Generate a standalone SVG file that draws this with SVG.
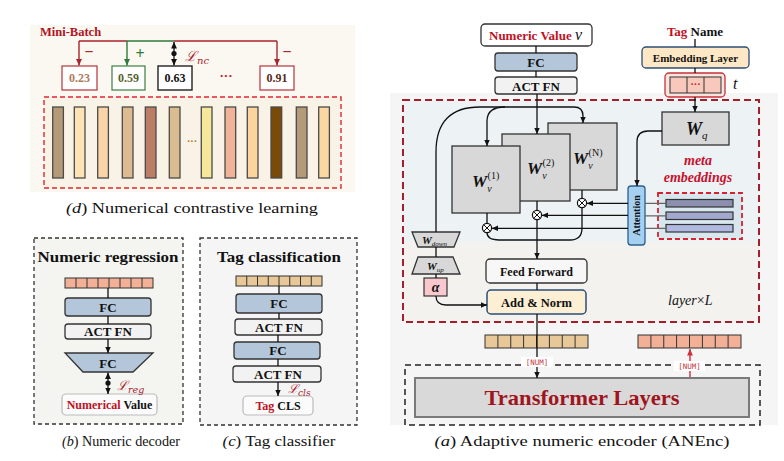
<svg xmlns="http://www.w3.org/2000/svg" width="784" height="461" viewBox="0 0 784 461">
<style>
text{font-family:"Liberation Serif","Times New Roman",serif;fill:#111}
.b{font-weight:bold}
.i{font-style:italic}
.n{font-weight:normal}
.u{font-style:normal}
.m{text-anchor:middle}
.lbl{font-weight:bold;font-size:13px;text-anchor:middle}
.cap{font-size:15.5px;text-anchor:middle}
.scr{font-family:"DejaVu Serif",serif;font-style:italic;fill:#a8242d}
.fc{fill:#b4c6d9;stroke:#333;stroke-width:1.3}
.act{fill:#f2f2f2;stroke:#333;stroke-width:1.3}
.gb{fill:#d8d8d8;stroke:#333;stroke-width:1.3}
.ln{fill:none;stroke:#111;stroke-width:1.3}
.arr{marker-end:url(#ah)}
.cellO{fill:#f2b196;stroke:#333;stroke-width:1}
.cellB{fill:#e8c898;stroke:#333;stroke-width:1}
.cl{stroke:#333;stroke-width:1;fill:none}
.bar{stroke:#4a4a4a;stroke-width:1.3}
.red{fill:#c0111f}
.num{font-family:"DejaVu Sans Mono","Liberation Mono",monospace;font-size:7.5px;fill:#c0393f;text-anchor:middle}
</style>
<defs>
<marker id="ah" viewBox="0 0 10 10" refX="10" refY="5" markerWidth="6.5" markerHeight="6.5" markerUnits="userSpaceOnUse" orient="auto-start-reverse"><path d="M0,0.5 L10,5 L0,9.5 z" fill="#111"/></marker>
<marker id="ahr" viewBox="0 0 10 10" refX="10" refY="5" markerWidth="6.5" markerHeight="6.5" markerUnits="userSpaceOnUse" orient="auto-start-reverse"><path d="M0,0.5 L10,5 L0,9.5 z" fill="#a8242d"/></marker>
<marker id="ahn" viewBox="0 0 10 10" refX="10" refY="5" markerWidth="6.5" markerHeight="6.5" markerUnits="userSpaceOnUse" orient="auto-start-reverse"><path d="M0,0.5 L10,5 L0,9.5 z" fill="#d0303a"/></marker>
<marker id="ahg" viewBox="0 0 10 10" refX="10" refY="5" markerWidth="6.5" markerHeight="6.5" markerUnits="userSpaceOnUse" orient="auto-start-reverse"><path d="M0,0.5 L10,5 L0,9.5 z" fill="#2f7a3a"/></marker>
<g id="otimes"><circle r="4.6" fill="#fff" stroke="#111" stroke-width="1.2"/><path d="M-3.2,-3.2 L3.2,3.2 M3.2,-3.2 L-3.2,3.2" stroke="#111" stroke-width="1"/></g>
</defs>

<!-- ===== backgrounds ===== -->
<g id="backgrounds">
<rect x="30" y="25" width="325" height="167" fill="#fbf8f1"/>
<rect x="44" y="97" width="297" height="91" fill="#f9f2e6" stroke="#e0282e" stroke-width="1.4" stroke-dasharray="5 3"/>
<rect x="34" y="238" width="149" height="186" fill="#f4f4f1" stroke="#333" stroke-width="1.3" stroke-dasharray="4 3"/>
<rect x="200" y="238" width="157" height="187" fill="#f5f5f5" stroke="#333" stroke-width="1.3" stroke-dasharray="4 3"/>
<rect x="390" y="93" width="388" height="332" fill="#f5f5f5"/>
<rect x="403" y="100" width="356" height="142" fill="#edf3f4"/>
<rect x="403" y="242" width="356" height="80" fill="#f3f2ee"/>
<rect x="403" y="100" width="356" height="222" fill="none" stroke="#a31f2b" stroke-width="2" stroke-dasharray="7 4"/>
<rect x="405" y="365" width="355" height="60" fill="none" stroke="#222" stroke-width="1.5" stroke-dasharray="6 4"/>
</g>

<!-- ===== panel d ===== -->
<g id="mini-batch"><text x="40" y="36" class="b" font-size="12.5" style="fill:#b0141f">Mini-Batch</text></g>
<g id="val-023"><rect x="62" y="66" width="35" height="24" fill="#fff" stroke="#b8323a" stroke-width="1.2"/><text x="79.5" y="82" class="b m" font-size="12" style="fill:#b07a5d">0.23</text></g>
<g id="val-059"><rect x="112" y="66" width="33" height="24" fill="#fff" stroke="#3a7d44" stroke-width="1.2"/><text x="128.5" y="82" class="b m" font-size="12" style="fill:#55632a">0.59</text></g>
<g id="val-063"><rect x="158" y="66" width="34" height="24" fill="#fff" stroke="#222" stroke-width="1.4"/><text x="175" y="82" class="b m" font-size="12">0.63</text></g>
<g id="val-dots"><text x="226" y="80" class="b m" font-size="13" style="fill:#c0111f">···</text></g>
<g id="val-091"><rect x="260" y="66" width="34" height="24" fill="#fff" stroke="#b8323a" stroke-width="1.2"/><text x="277" y="82" class="b m" font-size="12" style="fill:#5b2a14">0.91</text></g>
<g id="signs">
<text x="89" y="57" class="b m" font-size="16" style="fill:#a8242d">−</text>
<text x="140" y="59" class="b m" font-size="16" style="fill:#2f7a3a">+</text>
<text x="287" y="57" class="b m" font-size="16" style="fill:#a8242d">−</text>
<text x="185" y="61" class="scr" font-size="14">ℒ<tspan font-size="10" dy="3">nc</tspan></text>
</g>
<g id="embedding-bars">
<rect class="bar" x="52.7" y="107" width="10.7" height="71" fill="#b59a77"/>
<rect class="bar" x="74.3" y="107" width="10.7" height="71" fill="#fde3b3"/>
<rect class="bar" x="97.7" y="107" width="10.7" height="71" fill="#f8d4a6"/>
<rect class="bar" x="122.3" y="107" width="10.7" height="71" fill="#dcbb90"/>
<rect class="bar" x="145.3" y="107" width="10.7" height="71" fill="#bb7d66"/>
<rect class="bar" x="169.3" y="107" width="10.7" height="71" fill="#d9bc8f"/>
<text x="192" y="145" class="b m" font-size="10" style="fill:#b06a10">···</text>
<rect class="bar" x="201.3" y="107" width="10.7" height="71" fill="#f5e89a"/>
<rect class="bar" x="225" y="107" width="10.7" height="71" fill="#f0b39a"/>
<rect class="bar" x="247.3" y="107" width="10.7" height="71" fill="#fdd49d"/>
<rect class="bar" x="271" y="107" width="10.7" height="71" fill="#7a4a08"/>
<rect class="bar" x="296.3" y="107" width="10.7" height="71" fill="#b59a77"/>
<rect class="bar" x="318.7" y="107" width="10.7" height="71" fill="#fbd7a2"/>
</g>
<g id="caption-d"><text x="192" y="213" class="cap" textLength="252" lengthAdjust="spacingAndGlyphs"><tspan class="i">(d</tspan>) Numerical contrastive learning</text></g>

<!-- ===== panel b ===== -->
<g id="numeric-regression">
<text x="108" y="262" class="b m" font-size="15" textLength="141" lengthAdjust="spacingAndGlyphs">Numeric regression</text>
<g id="b-cells"><rect class="cellO" x="65" y="278" width="88" height="10"/><path class="cl" d="M76,278v10M87,278v10M98,278v10M109,278v10M120,278v10M131,278v10M142,278v10"/></g>
<g id="b-fc"><rect class="fc" x="65" y="298" width="86" height="18" rx="3"/><text x="108" y="312" class="lbl">FC</text></g>
<g id="b-act"><rect class="act" x="65" y="324" width="86" height="15" rx="3"/><text x="108" y="336" class="lbl">ACT FN</text></g>
<g id="b-fc2"><path class="fc" d="M65,353 L153,353 L133,372 L83,372 Z"/><text x="108" y="368" class="lbl">FC</text></g>
<g id="b-value"><rect x="62" y="394" width="95" height="21" rx="4" fill="#fbfbfb" stroke="#bbb" stroke-width="1.2"/><text x="109.5" y="409" class="b m" font-size="12"><tspan class="red">Numerical</tspan> Value</text></g>
<text x="117" y="390" class="scr" font-size="13">ℒ<tspan font-size="9.5" dy="3">reg</tspan></text>
</g>
<g id="caption-b"><text x="121" y="446" class="cap" textLength="118" lengthAdjust="spacingAndGlyphs"><tspan class="i">(b</tspan>) Numeric decoder</text></g>

<!-- ===== panel c ===== -->
<g id="tag-classification">
<text x="279" y="262" class="b m" font-size="15" textLength="124" lengthAdjust="spacingAndGlyphs">Tag classification</text>
<g id="c-cells"><rect class="cellB" x="236" y="276" width="86" height="10"/><path class="cl" d="M246.75,276v10M257.5,276v10M268.25,276v10M279,276v10M289.75,276v10M300.5,276v10M311.25,276v10"/></g>
<g id="c-fc1"><rect class="fc" x="236" y="294" width="86" height="19" rx="3"/><text x="279" y="308" class="lbl">FC</text></g>
<g id="c-act1"><rect class="act" x="235" y="319" width="87" height="16" rx="3"/><text x="279" y="332" class="lbl">ACT FN</text></g>
<g id="c-fc2"><rect class="fc" x="234" y="342" width="86" height="17" rx="3"/><text x="278" y="355" class="lbl">FC</text></g>
<g id="c-act2"><rect class="act" x="233" y="366" width="88" height="16" rx="3"/><text x="278" y="379" class="lbl">ACT FN</text></g>
<g id="c-cls"><rect x="243" y="396" width="70" height="19" rx="4" fill="#fbfbfb" stroke="#bbb" stroke-width="1.2"/><text x="278" y="410" class="b m" font-size="12"><tspan class="red">Tag</tspan> CLS</text></g>
<text x="288" y="393" class="scr" font-size="12.5">ℒ<tspan font-size="9" dy="2.5">cls</tspan></text>
</g>
<g id="caption-c"><text x="279" y="446" class="cap" textLength="113" lengthAdjust="spacingAndGlyphs"><tspan class="i">(c</tspan>) Tag classifier</text></g>

<!-- ===== panel a ===== -->
<g id="numeric-value"><rect x="481" y="24" width="111" height="22" rx="4" fill="#fff" stroke="#333" stroke-width="1.3"/><text x="489" y="40" class="b" font-size="13" style="fill:#c0111f">Numeric Value <tspan class="i n" font-size="16" style="fill:#111">v</tspan></text></g>
<g id="a-fc"><rect class="fc" x="495" y="53" width="82" height="18" rx="3"/><text x="536" y="67" class="lbl" font-size="14">FC</text></g>
<g id="a-act"><rect class="act" x="495" y="77" width="82" height="17" rx="3"/><text x="536" y="90.5" class="lbl" font-size="14">ACT FN</text></g>
<g id="tag-name"><text x="695" y="36" class="b m" font-size="13"><tspan class="red">Tag</tspan> Name</text></g>
<g id="embedding-layer"><rect x="642" y="47" width="107" height="21" rx="4" fill="#fde7c4" stroke="#2b4d78" stroke-width="1.3"/><text x="695.5" y="61.5" class="b m" font-size="11">Embedding Layer</text></g>
<g id="tag-vector"><rect x="665" y="73" width="60" height="24" rx="4" fill="#fbe3df" stroke="#c8323a" stroke-width="1.3"/><rect x="670" y="77" width="51" height="16" fill="#f8c8bc" stroke="#333" stroke-width="1"/><path class="cl" d="M687,77v16M704,77v16"/><text x="695.5" y="88" class="b m" font-size="10" style="fill:#c0111f">···</text><text x="733" y="89" class="i" font-size="16">t</text></g>
<g id="w-q"><rect class="gb" x="662" y="112" width="67" height="33"/><text x="686" y="135" class="b i" font-size="18">W<tspan class="n" font-size="11" dy="4">q</tspan></text></g>
<g id="w-v-N"><rect class="gb" x="548" y="123" width="69" height="67"/><text x="573" y="164" class="b i" font-size="17">W<tspan class="n" font-size="10" dy="5">v</tspan><tspan class="n u" font-size="10" dx="-4" dy="-13">(N)</tspan></text></g>
<g id="w-v-2"><rect class="gb" x="502" y="134" width="68" height="67"/><text x="527" y="174" class="b i" font-size="17">W<tspan class="n" font-size="10" dy="5">v</tspan><tspan class="n u" font-size="10" dx="-4" dy="-13">(2)</tspan></text></g>
<g id="w-v-1"><rect class="gb" x="452" y="146" width="68" height="67"/><text x="472" y="187" class="b i" font-size="17">W<tspan class="n" font-size="10" dy="5">v</tspan><tspan class="n u" font-size="10" dx="-4" dy="-13">(1)</tspan></text></g>
<g id="meta-embeddings">
<text x="698" y="165" class="b i m" font-size="14" style="fill:#c8102e">meta</text>
<text x="698" y="182" class="b i m" font-size="14" style="fill:#c8102e">embeddings</text>
<rect x="658" y="193" width="84" height="46" fill="#d8e6ee" stroke="#d6212e" stroke-width="1.8" stroke-dasharray="5 3"/>
<rect x="666" y="199.5" width="67" height="7.5" fill="#8c8fae" stroke="#333" stroke-width="1.2"/>
<rect x="666" y="212" width="67" height="7.5" fill="#a3a8cf" stroke="#333" stroke-width="1.2"/>
<rect x="666" y="224.5" width="67" height="7.5" fill="#b1b8e2" stroke="#333" stroke-width="1.2"/>
</g>
<g id="attention"><rect x="628" y="186" width="17" height="59" rx="3" fill="#a6d0f0" stroke="#2c5f8f" stroke-width="1.3"/><text transform="translate(640,215.5) rotate(-90)" class="b m" font-size="10">Attention</text></g>
<g id="w-down"><path class="gb" d="M412,232 L460,232 L454,247 L418,247 Z"/><text x="422" y="243.5" class="b i" font-size="11">W<tspan class="n" font-size="7" dy="2">down</tspan></text></g>
<g id="w-up"><path class="gb" d="M418,257 L453,257 L460,274 L412,274 Z"/><text x="427" y="269.5" class="b i" font-size="11">W<tspan class="n" font-size="7" dy="2">up</tspan></text></g>
<g id="alpha"><rect x="424" y="278" width="23" height="18" fill="#f9c8cf" stroke="#333" stroke-width="1.2"/><text x="435.5" y="292" class="b i m" font-size="14">α</text></g>
<g id="feed-forward"><rect x="486" y="259" width="101" height="24" rx="4" fill="#f7f7f7" stroke="#333" stroke-width="1.3"/><text x="536.5" y="275.5" class="b m" font-size="12">Feed Forward</text></g>
<g id="add-norm"><rect x="487" y="290" width="99" height="24" rx="4" fill="#fdefd3" stroke="#2b4d78" stroke-width="1.5"/><text x="536.5" y="306.5" class="b m" font-size="12.5">Add &amp; Norm</text></g>
<g id="layer-L"><text x="668" y="305" class="i" font-size="14">layer<tspan class="u">×</tspan>L</text></g>
<g id="out-cells-num"><rect class="cellB" x="485" y="335" width="103" height="13"/><path class="cl" d="M497.9,335v13M510.75,335v13M523.6,335v13M536.5,335v13M549.4,335v13M562.25,335v13M575.1,335v13"/></g>
<g id="out-cells-dec"><rect class="cellO" x="638" y="335" width="103" height="13"/><path class="cl" d="M650.9,335v13M663.75,335v13M676.6,335v13M689.5,335v13M702.4,335v13M715.25,335v13M728.1,335v13"/></g>
<g id="transformer"><rect x="415" y="378" width="334" height="39" fill="#d9d9d9" stroke="#7a7a7a" stroke-width="2"/><text x="582" y="405" class="b m" font-size="22" textLength="195" lengthAdjust="spacingAndGlyphs" style="fill:#a0141e">Transformer Layers</text></g>
<g id="caption-a"><text x="582" y="446" class="cap" textLength="295" lengthAdjust="spacingAndGlyphs"><tspan class="i">(a</tspan>) Adaptive numeric encoder (ANEnc)</text></g>

<!-- ===== connectors ===== -->
<g id="connectors">
<path d="M79,41 L127,41" stroke="#a8242d" stroke-width="1.4" fill="none"/>
<path d="M127,41 L174,41" stroke="#2f7a3a" stroke-width="1.4" fill="none"/>
<path d="M174,41 L277,41" stroke="#a8242d" stroke-width="1.4" fill="none"/>
<path d="M79,41 L79,65.5" stroke="#a8242d" stroke-width="1.4" fill="none" marker-end="url(#ahr)"/>
<path d="M127,41 L127,65.5" stroke="#2f7a3a" stroke-width="1.4" fill="none" marker-end="url(#ahg)"/>
<path d="M277,41 L277,65.5" stroke="#a8242d" stroke-width="1.4" fill="none" marker-end="url(#ahr)"/>
<path class="ln" d="M174,42 L174,65.5" marker-start="url(#ah)" marker-end="url(#ah)"/>
<circle cx="174" cy="53.5" r="2.6" fill="#111"/>
<path class="ln" d="M108,288 L108,298 M108,316 L108,324"/>
<path class="ln arr" d="M108,339 L108,353"/>
<path class="ln" d="M108,372.5 L108,394" marker-start="url(#ah)" marker-end="url(#ah)"/>
<circle cx="108" cy="383" r="2.6" fill="#111"/>
<path class="ln" d="M279,286 L279,294 M279,313 L279,319 M278,335 L278,342 M278,359 L278,366"/>
<path class="ln arr" d="M278,382 L278,396"/>
<path class="ln" d="M536,46 L536,53 M536,71 L536,77"/>
<path class="ln arr" d="M537,94 L537,134"/>
<path class="ln" d="M695,39 L695,47 M695,68 L695,73"/>
<path class="ln arr" d="M695,97 L695,112"/>
<path class="ln arr" d="M436,232 L436,152 Q436,107 480,107 L574,107 Q583,107 583,116 L583,123"/>
<path class="ln arr" d="M505,107 Q487,107 487,121 L487,146"/>
<path class="ln arr" d="M662,131 L648,131 Q637,131 637,142 L637,186"/>
<path class="ln" d="M487,213 L487,223.4 M537,201 L537,210.4 M582,190 L582,198.4"/>
<path d="M645,203.3 L666,203.3 M645,215.8 L666,215.8 M645,228.3 L666,228.3" stroke="#666" stroke-width="1.2" fill="none"/>
<path class="ln arr" d="M628,203.3 L586.8,203.3"/>
<path class="ln arr" d="M628,215.3 L541.8,215.3"/>
<path class="ln arr" d="M628,228.3 L491.8,228.3"/>
<path class="ln" d="M582,207.6 L582,228 Q582,240 570,240 L499,240 Q487,240 487,232.6"/>
<path class="ln arr" d="M537,219.6 L537,259"/>
<path class="ln" d="M537,283 L537,290"/>
<path class="ln" d="M436,247 L436,257 M436,274 L436,278"/>
<path class="ln arr" d="M436,296 Q436,305 446,305 L487,305"/>
<path class="ln arr" d="M537,314 L537,378"/>
<path d="M690,377 L690,349" stroke="#d0303a" stroke-width="1.4" fill="none" marker-end="url(#ahn)"/>
<rect x="521" y="357" width="32" height="10" fill="#fff"/>
<text x="537" y="364.5" class="num">[NUM]</text>
<rect x="674" y="361" width="31" height="10" fill="#fff"/>
<text x="689.5" y="368.5" class="num">[NUM]</text>
</g>
<g id="otimes-nodes">
<use href="#otimes" x="487" y="228"/>
<use href="#otimes" x="537" y="215"/>
<use href="#otimes" x="582" y="203"/>
</g>
</svg>
